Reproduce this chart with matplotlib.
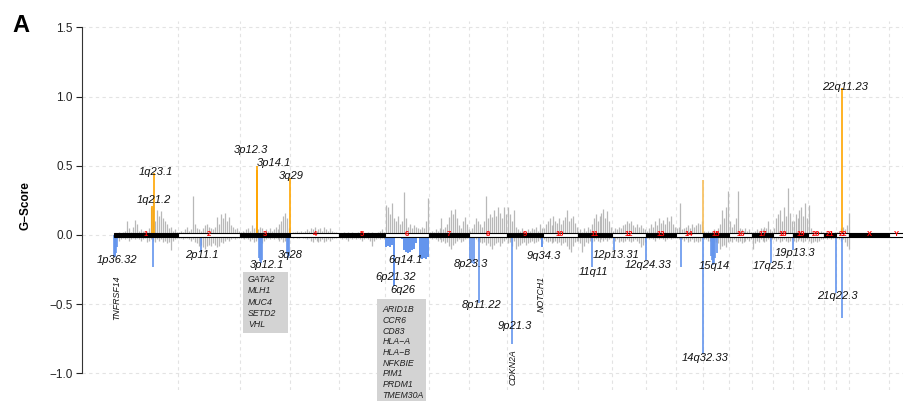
import numpy as np
import matplotlib
matplotlib.use("Agg")
import matplotlib.pyplot as plt
from matplotlib.patches import Rectangle

plt.rcParams['font.family'] = ['Liberation Sans', 'DejaVu Sans']
plt.rcParams['axes.unicode_minus'] = True

# ---------------- data ----------------
chrom_names = ['1', '2', '3', '4', '5', '6', '7', '8', '9', '10', '11', '12',
               '13', '14', '15', '16', '17', '18', '19', '20', '21', '22', 'X', 'Y']
chrom_len_mb = [249.25, 243.2, 198.0, 191.15, 180.9, 171.1, 159.1, 146.4, 141.2,
                135.5, 135.0, 133.85, 115.2, 107.35, 102.5, 90.35, 81.2, 78.1,
                59.1, 63.0, 48.1, 51.3, 155.3, 59.4]

# gray (non-significant) amplification G-scores, evenly spread along each chromosome
amp_c1 = [0.01, 0.015, 0.02, 0.01, 0.02, 0.03, 0.10, 0.05, 0.02, 0.06, 0.11, 0.08, 0.03, 0.04,
          0.03, 0.02, 0.03, 0.05, 0.20, 0.25, 0.10, 0.18, 0.14, 0.17, 0.12, 0.10, 0.08, 0.05,
          0.06, 0.03, 0.04, 0.02]
amp_c2 = [0.02, 0.03, 0.02, 0.04, 0.06, 0.03, 0.04, 0.28, 0.08, 0.05, 0.04, 0.03, 0.05, 0.07,
          0.08, 0.06, 0.05, 0.04, 0.06, 0.13, 0.08, 0.15, 0.12, 0.16, 0.10, 0.13, 0.07, 0.06,
          0.04, 0.05, 0.03]
amp_c3 = [0.02, 0.03, 0.02, 0.04, 0.05, 0.03, 0.07, 0.05, 0.06, 0.04, 0.06, 0.05, 0.03, 0.04,
          0.03, 0.05, 0.03, 0.04, 0.06, 0.04, 0.08, 0.10, 0.14, 0.16, 0.12, 0.05]
amp_c4 = [0.01, 0.02, 0.02, 0.03, 0.02, 0.03, 0.02, 0.03, 0.04, 0.03, 0.05, 0.04, 0.06, 0.03,
          0.04, 0.05, 0.03, 0.06, 0.04, 0.03, 0.05, 0.03, 0.02, 0.02, 0.01]
amp_c5 = [0.01, 0.01, 0.02, 0.01, 0.02, 0.01, 0.02, 0.01, 0.01, 0.02, 0.01, 0.02, 0.01, 0.01,
          0.02, 0.01, 0.02, 0.01, 0.01, 0.02, 0.03, 0.04, 0.02]
amp_c6 = [0.22, 0.20, 0.15, 0.23, 0.12, 0.10, 0.14, 0.08, 0.10, 0.31, 0.12, 0.06, 0.08, 0.05,
          0.07, 0.06, 0.05, 0.04, 0.06, 0.05, 0.10, 0.27]
amp_c7 = [0.02, 0.03, 0.02, 0.04, 0.03, 0.05, 0.12, 0.04, 0.06, 0.08, 0.13, 0.18, 0.15, 0.19,
          0.12, 0.07, 0.05, 0.10, 0.13, 0.08, 0.04]
amp_c8 = [0.03, 0.05, 0.08, 0.12, 0.10, 0.08, 0.06, 0.10, 0.28, 0.12, 0.15, 0.13, 0.18, 0.14,
          0.20, 0.16, 0.12, 0.20, 0.15]
amp_c9 = [0.20, 0.15, 0.10, 0.18, 0.06, 0.04, 0.03, 0.05, 0.02, 0.03, 0.04, 0.03, 0.05, 0.04,
          0.06, 0.03, 0.08, 0.05]
amp_c10 = [0.05, 0.08, 0.10, 0.12, 0.07, 0.14, 0.10, 0.09, 0.12, 0.08, 0.11, 0.13, 0.18, 0.10,
           0.12, 0.14, 0.09, 0.06]
amp_c11 = [0.03, 0.04, 0.02, 0.05, 0.03, 0.06, 0.04, 0.08, 0.12, 0.15, 0.10, 0.14, 0.16, 0.19,
           0.12, 0.17, 0.10, 0.06]
amp_c12 = [0.03, 0.05, 0.04, 0.06, 0.05, 0.07, 0.08, 0.10, 0.09, 0.10, 0.07, 0.06, 0.08, 0.06,
           0.07, 0.05, 0.04]
amp_c13 = [0.03, 0.05, 0.08, 0.06, 0.10, 0.07, 0.12, 0.09, 0.11, 0.08, 0.13, 0.10, 0.14, 0.08,
           0.06]
amp_c14 = [0.05, 0.06, 0.23, 0.04, 0.05, 0.06, 0.07, 0.05, 0.08, 0.06, 0.07, 0.09, 0.08, 0.10]
amp_c15 = [0.03, 0.02, 0.03, 0.02, 0.03, 0.04, 0.03, 0.05, 0.08, 0.18, 0.12, 0.20, 0.32]
amp_c16 = [0.10, 0.06, 0.08, 0.12, 0.32, 0.05, 0.04, 0.03, 0.05, 0.03, 0.04, 0.02]
amp_c17 = [0.02, 0.03, 0.04, 0.03, 0.05, 0.04, 0.06, 0.05, 0.10, 0.04, 0.03]
amp_c18 = [0.05, 0.12, 0.15, 0.18, 0.10, 0.20, 0.14, 0.34, 0.16, 0.10]
amp_c19 = [0.10, 0.15, 0.12, 0.18, 0.20, 0.14, 0.23, 0.12]
amp_c20 = [0.22, 0.05, 0.03, 0.02, 0.03, 0.02, 0.03, 0.02]
amp_c21 = [0.01, 0.02, 0.01, 0.02, 0.01, 0.02]
amp_c22 = [0.02, 0.03, 0.05, 0.06, 0.04, 0.07, 0.16]

# gray (non-significant) deletion G-scores
del_c1 = [-0.03, -0.02, -0.04, -0.03, -0.02, -0.03, -0.02, -0.04, -0.03, -0.02, -0.03, -0.02,
          -0.03, -0.04, -0.03, -0.02, -0.05, -0.04, -0.03, -0.04, -0.05, -0.03, -0.04, -0.03,
          -0.05, -0.04, -0.06, -0.05, -0.11, -0.04, -0.03, -0.02]
del_c2 = [-0.02, -0.02, -0.03, -0.02, -0.02, -0.03, -0.04, -0.03, -0.05, -0.06, -0.08, -0.07,
          -0.09, -0.10, -0.08, -0.07, -0.08, -0.06, -0.07, -0.09, -0.08, -0.05, -0.06, -0.04,
          -0.03, -0.04, -0.03, -0.02, -0.03, -0.02, -0.02]
del_c3 = [-0.02, -0.02, -0.03, -0.02, -0.03, -0.04, -0.03, -0.05, -0.04, -0.03, -0.05, -0.06,
          -0.04, -0.03, -0.02, -0.03, -0.02, -0.03, -0.02, -0.03, -0.04, -0.03, -0.05, -0.04,
          -0.03, -0.02]
del_c4 = [-0.01, -0.02, -0.01, -0.02, -0.02, -0.01, -0.02, -0.02, -0.03, -0.02, -0.04, -0.05,
          -0.03, -0.04, -0.05, -0.04, -0.03, -0.05, -0.04, -0.03, -0.04, -0.03, -0.02, -0.02,
          -0.01]
del_c5 = [-0.02, -0.03, -0.02, -0.03, -0.04, -0.02, -0.03, -0.02, -0.03, -0.02, -0.03, -0.04,
          -0.03, -0.02, -0.03, -0.04, -0.08, -0.04, -0.03, -0.02, -0.03, -0.02, -0.03]
del_c6 = []
del_c7 = [-0.02, -0.03, -0.02, -0.03, -0.04, -0.03, -0.05, -0.04, -0.06, -0.05, -0.08, -0.10,
          -0.07, -0.06, -0.04, -0.03, -0.05, -0.04, -0.03, -0.02, -0.02]
del_c8 = [-0.02, -0.02, -0.03, -0.03, -0.04, -0.05, -0.06, -0.05, -0.07, -0.06, -0.08, -0.10,
          -0.07, -0.06, -0.05, -0.08, -0.06, -0.04, -0.03]
del_c9 = [-0.06, -0.05, -0.08, -0.04, -0.10, -0.08, -0.07, -0.06, -0.05, -0.07, -0.06, -0.05,
          -0.04, -0.06, -0.05, -0.04, -0.03, -0.03]
del_c10 = [-0.03, -0.04, -0.05, -0.04, -0.06, -0.05, -0.04, -0.06, -0.05, -0.07, -0.06, -0.05,
           -0.08, -0.10, -0.12, -0.08, -0.05, -0.04]
del_c11 = [-0.04, -0.06, -0.12, -0.08, -0.05, -0.06, -0.04, -0.05, -0.04, -0.03, -0.04, -0.05,
           -0.03, -0.04, -0.03, -0.04, -0.03, -0.02]
del_c12 = [-0.03, -0.04, -0.03, -0.05, -0.04, -0.05, -0.04, -0.03, -0.04, -0.05, -0.04, -0.03,
           -0.04, -0.06, -0.09, -0.07, -0.05]
del_c13 = [-0.02, -0.03, -0.02, -0.03, -0.04, -0.02, -0.03, -0.02, -0.03, -0.04, -0.03, -0.02,
           -0.03, -0.02, -0.02]
del_c14 = [-0.02, -0.03, -0.02, -0.03, -0.04, -0.03, -0.05, -0.04, -0.03, -0.05, -0.04, -0.05,
           -0.04, -0.03]
del_c15 = [-0.03, -0.03, -0.04, -0.04, -0.05, -0.05, -0.05, -0.06, -0.10, -0.08, -0.07, -0.09,
           -0.05]
del_c16 = [-0.04, -0.05, -0.03, -0.04, -0.05, -0.04, -0.06, -0.05, -0.04, -0.03, -0.04, -0.03]
del_c17 = [-0.10, -0.06, -0.04, -0.05, -0.03, -0.04, -0.05, -0.04, -0.03, -0.04, -0.03]
del_c18 = [-0.03, -0.04, -0.03, -0.05, -0.04, -0.03, -0.04, -0.05, -0.04, -0.03]
del_c19 = [-0.04, -0.05, -0.04, -0.03, -0.04, -0.05, -0.04, -0.03]
del_c20 = [-0.04, -0.06, -0.05, -0.04, -0.05, -0.04, -0.03, -0.03]
del_c21 = [-0.02, -0.03, -0.02, -0.03, -0.02, -0.02]
del_c22 = [-0.02, -0.03, -0.04, -0.03, -0.05, -0.08, -0.10]

# chromosome 6: significant deletion profile over the whole chromosome
del_sig_c6 = [-0.085, -0.08, -0.085, -0.07, -0.37, -0.02, -0.015, -0.02, -0.03, -0.11, -0.12,
              -0.13, -0.12, -0.11, -0.10, -0.06, -0.02, -0.17, -0.175, -0.17, -0.175, -0.16]

# significant amplification peaks (orange)
amp_peak_chrom = ['1', '1', '3', '3', '3', '14', '22']
amp_peak_mb = [151, 157, 69, 69, 196, 106, 24]
amp_peak_g = [0.21, 0.45, 0.47, 0.50, 0.41, 0.40, 1.065]

# significant deletion peaks (blue)
del_peak_chrom = ['1', '1', '1', '1', '1', '1', '2', '3', '3', '3', '3', '3', '3', '3',
                  '8', '8', '8', '8', '9', '9', '9', '11', '12', '12', '14', '14',
                  '15', '15', '15', '15', '15', '15', '15', '17', '19', '21', '22']
del_peak_mb = [1, 3.5, 6, 8.5, 11, 152, 90, 76, 80, 84, 88, 184, 188, 192,
               1, 9, 17, 38, 22, 136, 139, 57, 7, 132, 20, 106,
               30, 34, 38, 41, 45, 49, 53, 73, 2, 46, 24]
del_peak_g = [-0.16, -0.16, -0.15, -0.13, -0.09, -0.23, -0.12, -0.17, -0.19, -0.20, -0.18,
              -0.14, -0.17, -0.15, -0.18, -0.20, -0.21, -0.49, -0.785, -0.085, -0.09, -0.235,
              -0.11, -0.18, -0.23, -0.86, -0.15, -0.18, -0.20, -0.22, -0.20, -0.17, -0.13,
              -0.20, -0.11, -0.42, -0.60]

# cytoband labels (genome position in Mb, G-score level)
band_text = ['1p36.32', '1q21.2', '1q23.1', '2p11.1', '3p12.3', '3p14.1', '3q29', '3p12.1',
             '3q28', '6q14.1', '6p21.32', '6q26', '8p23.3', '8p11.22', '9p21.3', '9q34.3',
             '11q11', '12p13.31', '12q24.33', '14q32.33', '15q14', '17q25.1', '19p13.3',
             '21q22.3', '22q11.23']
band_x = [11.8, 156.7, 164.5, 344.7, 534.7, 626.7, 693.3, 599.3, 689.4, 1141.8, 1102.6,
          1130.0, 1396.4, 1439.5, 1568.7, 1684.3, 1878.2, 1968.3, 2092.8, 2314.9, 2350.2,
          2582.4, 2668.6, 2835.1, 2862.1]
band_y = [-0.181, 0.253, 0.456, -0.145, 0.615, 0.523, 0.429, -0.217, -0.145, -0.181, -0.302,
          -0.398, -0.21, -0.506, -0.656, -0.152, -0.27, -0.145, -0.217, -0.887, -0.224,
          -0.224, -0.132, -0.441, 1.072]

# driver genes (rotated single labels)
gene_text = ['TNFRSF14', 'CDKN2A', 'NOTCH1']
gene_x = [11.8, 1561.7, 1675.3]
gene_y = [-0.456, -0.952, -0.427]

# gene boxes
box3_genes = ['GATA2', 'MLH1', 'MUC4', 'SETD2', 'VHL']
box6_genes = ['ARID1B', 'CCR6', 'CD83', 'HLA\u2212A', 'HLA\u2212B', 'NFKBIE', 'PIM1', 'PRDM1',
              'TMEM30A']

yticks = [-1.0, -0.5, 0.0, 0.5, 1.0, 1.5]

# ---------------- plotting ----------------
GRAY = '#B8B8B8'
ORANGE = '#FFA500'
BLUE = '#6495ED'

fig = plt.figure(figsize=(9.04, 4.01), dpi=100)
ax = fig.add_axes([82.5 / 904, 0.0277, 822.9 / 904, 0.921])
ax.set_xlim(-123, 3100)
ax.set_ylim(-1.12, 1.55)

offsets = np.concatenate([[0], np.cumsum(chrom_len_mb)])
chrom_index = {c: i for i, c in enumerate(chrom_names)}

# grid
for yv in yticks:
    ax.axhline(yv, color='#E3E3E3', lw=0.8, ls=(0, (3, 3)), zorder=0)
for b in offsets[1:]:
    ax.axvline(b, color='#E3E3E3', lw=0.8, ls=(0, (3, 3)), zorder=0)

amp_lists = [amp_c1, amp_c2, amp_c3, amp_c4, amp_c5, amp_c6, amp_c7, amp_c8, amp_c9, amp_c10,
             amp_c11, amp_c12, amp_c13, amp_c14, amp_c15, amp_c16, amp_c17, amp_c18, amp_c19,
             amp_c20, amp_c21, amp_c22]
del_lists = [del_c1, del_c2, del_c3, del_c4, del_c5, del_c6, del_c7, del_c8, del_c9, del_c10,
             del_c11, del_c12, del_c13, del_c14, del_c15, del_c16, del_c17, del_c18, del_c19,
             del_c20, del_c21, del_c22]

for i, vals in enumerate(amp_lists):
    n = len(vals)
    pos = offsets[i] + (np.arange(n) + 0.5) * chrom_len_mb[i] / n
    ax.vlines(pos, 0, vals, color=GRAY, lw=0.9, zorder=2)
for i, vals in enumerate(del_lists):
    n = len(vals)
    if n == 0:
        continue
    pos = offsets[i] + (np.arange(n) + 0.5) * chrom_len_mb[i] / n
    ax.vlines(pos, 0, vals, color=GRAY, lw=0.9, zorder=2)

# chr6 significant deletion
i6 = chrom_index['6']
n6 = len(del_sig_c6)
w6 = chrom_len_mb[i6] / n6
pos6 = offsets[i6] + (np.arange(n6) + 0.5) * w6
ax.bar(pos6, del_sig_c6, width=w6 * 0.92, color=BLUE, edgecolor='none', zorder=3)

# peaks
for c, mb, g in zip(amp_peak_chrom, amp_peak_mb, amp_peak_g):
    col = ORANGE if c != '14' else '#F7BE5A'
    ax.vlines(offsets[chrom_index[c]] + mb, 0, g, color=col, lw=1.2, zorder=3)
for c, mb, g in zip(del_peak_chrom, del_peak_mb, del_peak_g):
    ax.vlines(offsets[chrom_index[c]] + mb, 0, g, color=BLUE, lw=1.2, zorder=3)

# chromosome bar
for i, name in enumerate(chrom_names):
    fc = 'black' if i % 2 == 0 else 'white'
    ax.add_patch(Rectangle((offsets[i], -0.016), chrom_len_mb[i], 0.032, facecolor=fc,
                           edgecolor='black', lw=0.8, zorder=4))
    ax.text(offsets[i] + chrom_len_mb[i] / 2, 0.0, name, color='red', fontsize=5.5,
            fontweight='bold', ha='center', va='center', zorder=5)

# labels
for t, x, y in zip(band_text, band_x, band_y):
    ax.text(x, y, t, fontsize=8, fontstyle='italic', ha='center', va='center', color='#111111',
            zorder=6)
for t, x, y in zip(gene_text, gene_x, gene_y):
    ax.text(x, y, t, fontsize=6.3, fontstyle='italic', ha='center', va='center', rotation=90,
            color='#111111', zorder=6)

# gene boxes
ax.add_patch(Rectangle((505.3, -0.709), 176.3, 0.441, facecolor='#D3D3D3', edgecolor='none',
                       zorder=5, clip_on=False))
for k, g in enumerate(box3_genes):
    ax.text(524.9, -0.325 - k * 0.0798, g, fontsize=6.3, fontstyle='italic', ha='left',
            va='center', color='#222222', zorder=6)
ax.add_patch(Rectangle((1029, -1.25), 193, 0.787, facecolor='#D3D3D3', edgecolor='none',
                       zorder=5, clip_on=False))
for k, g in enumerate(box6_genes):
    ax.text(1052.5, -0.542 - k * 0.0769, g, fontsize=6.3, fontstyle='italic', ha='left',
            va='center', color='#222222', zorder=6, clip_on=False)

# axes styling
for s in ['top', 'right', 'bottom']:
    ax.spines[s].set_visible(False)
ax.spines['left'].set_bounds(-1.0, 1.5)
ax.spines['left'].set_color('#333333')
ax.spines['left'].set_linewidth(0.8)
ax.set_xticks([])
ax.set_yticks(yticks)
ax.set_yticklabels([f'{v:.1f}'.replace('-', '\u2212') for v in yticks])
ax.tick_params(axis='y', length=4.5, width=0.8, pad=2.5, labelsize=8.5, colors='#222222')
ax.set_ylabel('G\u2212Score', fontsize=8.5, fontweight='bold')
ax.yaxis.set_label_coords(-(82.5 - 31.7) / 822.9, (389.9 - 206) / 369.3)

fig.text(12 / 904, 1 - 14 / 401, 'A', fontsize=17, fontweight='bold', ha='left', va='top')

fig.savefig('out.png', dpi=100)
